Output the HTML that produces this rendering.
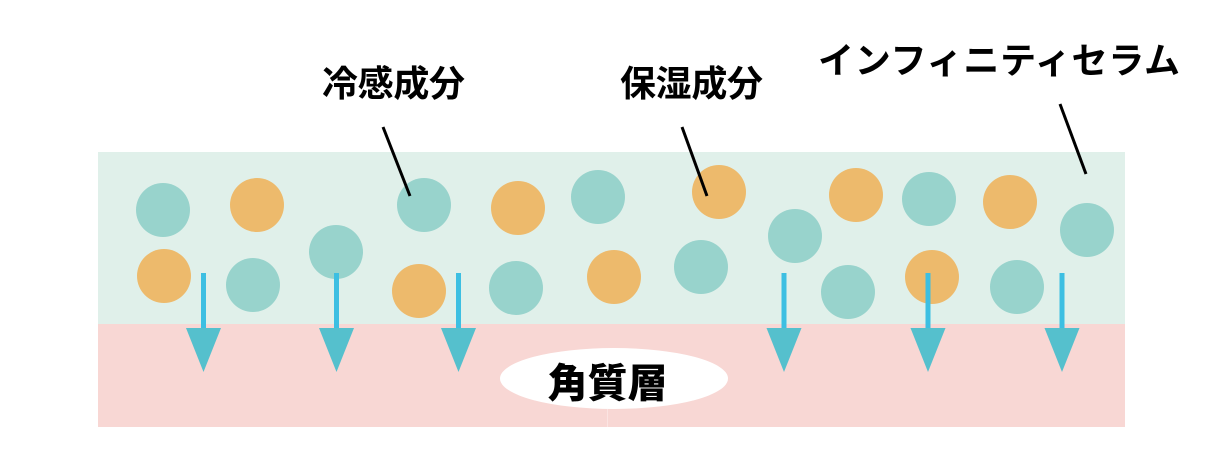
<!DOCTYPE html>
<html><head><meta charset="utf-8"><style>
html,body{margin:0;padding:0;background:#fff;}
svg{display:block;}
text{font-family:"Liberation Sans","Noto Sans CJK JP",sans-serif;font-weight:700;fill:#000;}
</style></head><body>
<svg width="1231" height="468" viewBox="0 0 1231 468" xmlns="http://www.w3.org/2000/svg">
<rect x="98" y="152" width="1027" height="172" fill="#e0f0ea"/>
<rect x="98" y="324" width="1027" height="103" fill="#f8d7d4"/>
<line x1="607.5" y1="409" x2="607.5" y2="427" stroke="#fbe4e2" stroke-width="1"/>
<g fill="#98d3cc">
<circle cx="163" cy="210" r="27"/>
<circle cx="336" cy="252" r="27"/>
<circle cx="424" cy="205" r="27"/>
<circle cx="253" cy="285" r="27"/>
<circle cx="598" cy="197" r="27"/>
<circle cx="795" cy="236" r="27"/>
<circle cx="516" cy="288" r="27"/>
<circle cx="701" cy="267" r="27"/>
<circle cx="929" cy="199" r="27"/>
<circle cx="1087" cy="230" r="27"/>
<circle cx="848" cy="292" r="27"/>
<circle cx="1017" cy="287" r="27"/>
</g>
<g fill="#edba6c">
<circle cx="257" cy="205" r="27"/>
<circle cx="164" cy="276" r="27"/>
<circle cx="419" cy="291" r="27"/>
<circle cx="518" cy="208" r="27"/>
<circle cx="719" cy="192" r="27"/>
<circle cx="614" cy="277" r="27"/>
<circle cx="856" cy="195" r="27"/>
<circle cx="1010" cy="202" r="27"/>
<circle cx="932" cy="277" r="27"/>
</g>
<g>
<g transform="translate(203.5,0)"><rect x="-2.5" y="273" width="5" height="56" fill="#3dbfe2"/><polygon points="-17.5,328 17.5,328 0,372" fill="#55c0cd"/></g>
<g transform="translate(336.5,0)"><rect x="-2.5" y="273" width="5" height="56" fill="#3dbfe2"/><polygon points="-17.5,328 17.5,328 0,372" fill="#55c0cd"/></g>
<g transform="translate(458.5,0)"><rect x="-2.5" y="273" width="5" height="56" fill="#3dbfe2"/><polygon points="-17.5,328 17.5,328 0,372" fill="#55c0cd"/></g>
<g transform="translate(784,0)"><rect x="-2.5" y="273" width="5" height="56" fill="#3dbfe2"/><polygon points="-17.5,328 17.5,328 0,372" fill="#55c0cd"/></g>
<g transform="translate(928,0)"><rect x="-2.5" y="273" width="5" height="56" fill="#3dbfe2"/><polygon points="-17.5,328 17.5,328 0,372" fill="#55c0cd"/></g>
<g transform="translate(1062,0)"><rect x="-2.5" y="273" width="5" height="56" fill="#3dbfe2"/><polygon points="-17.5,328 17.5,328 0,372" fill="#55c0cd"/></g>
</g>
<ellipse cx="614" cy="378.5" rx="114" ry="30.5" fill="#fff"/>
<text x="607.5" y="397" font-size="40" text-anchor="middle" style="font-weight:900">角質層</text>
<text x="322" y="96" font-size="36" textLength="143" lengthAdjust="spacing">冷感成分</text>
<text x="620" y="96" font-size="36" textLength="143" lengthAdjust="spacing">保湿成分</text>
<text x="818" y="73" font-size="36" textLength="362" lengthAdjust="spacing">インフィニティセラム</text>
<g stroke="#000" stroke-width="3">
<line x1="383" y1="127" x2="410" y2="196"/>
<line x1="682" y1="127" x2="707" y2="196"/>
<line x1="1060" y1="104" x2="1086" y2="174"/>
</g>
</svg>
</body></html>
